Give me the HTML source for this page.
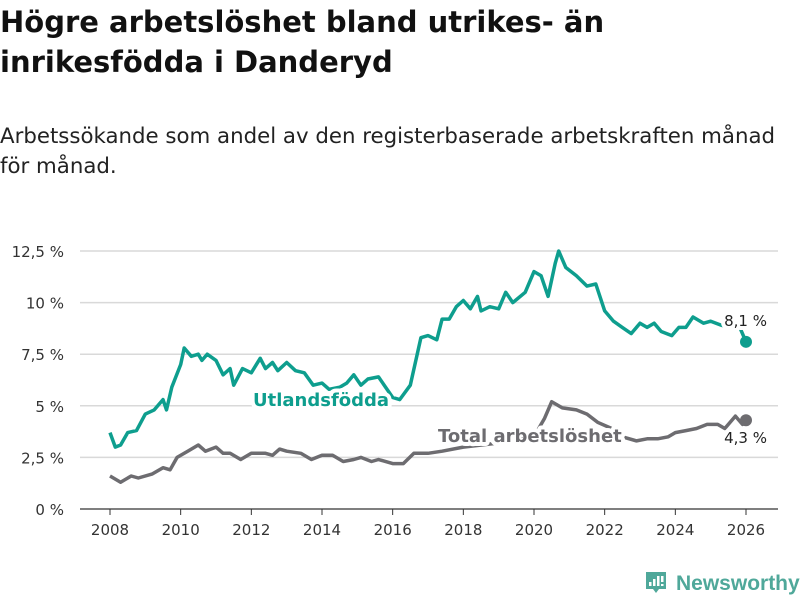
<!DOCTYPE html>
<html><head><meta charset="utf-8">
<style>
body{margin:0;background:#fff;width:800px;height:600px;overflow:hidden;font-family:"DejaVu Sans","Liberation Sans",sans-serif;}
#title{position:absolute;left:0;top:2px;font-size:29px;font-weight:bold;line-height:40px;color:#111;margin:0;white-space:nowrap;}
#sub{position:absolute;left:0;top:122px;font-size:21.3px;line-height:30px;color:#222;margin:0;white-space:nowrap;}
svg{position:absolute;left:0;top:0;}
</style></head><body>
<h1 id="title">Högre arbetslöshet bland utrikes- än<br>inrikesfödda i Danderyd</h1>
<p id="sub">Arbetssökande som andel av den registerbaserade arbetskraften månad<br>för månad.</p>
<svg id="chart" width="800" height="600"></svg>
<script>
const yTicks=[0,2.5,5,7.5,10,12.5];
const yTickLabels=["0 %","2,5 %","5 %","7,5 %","10 %","12,5 %"];
const xTicks=[2008,2010,2012,2014,2016,2018,2020,2022,2024,2026];
const utlT=[2008,2008.15,2008.3,2008.5,2008.75,2009,2009.25,2009.5,2009.6,2009.75,2010,2010.1,2010.3,2010.5,2010.6,2010.75,2011,2011.2,2011.4,2011.5,2011.75,2012,2012.25,2012.4,2012.6,2012.75,2013,2013.25,2013.5,2013.75,2014,2014.2,2014.5,2014.7,2014.9,2015.1,2015.3,2015.6,2015.8,2016,2016.2,2016.5,2016.8,2017,2017.25,2017.4,2017.6,2017.8,2018,2018.2,2018.4,2018.5,2018.75,2019,2019.2,2019.4,2019.75,2020,2020.2,2020.4,2020.6,2020.7,2020.9,2021.2,2021.5,2021.75,2022,2022.25,2022.5,2022.75,2023,2023.2,2023.4,2023.6,2023.9,2024.1,2024.3,2024.5,2024.8,2025,2025.3,2025.6,2025.8,2026];
const utlV=[3.7,3.0,3.1,3.7,3.8,4.6,4.8,5.3,4.8,5.9,7.0,7.8,7.4,7.5,7.2,7.5,7.2,6.5,6.8,6.0,6.8,6.6,7.3,6.8,7.1,6.7,7.1,6.7,6.6,6.0,6.1,5.8,5.9,6.1,6.5,6.0,6.3,6.4,5.9,5.4,5.3,6.0,8.3,8.4,8.2,9.2,9.2,9.8,10.1,9.7,10.3,9.6,9.8,9.7,10.5,10.0,10.5,11.5,11.3,10.3,11.9,12.5,11.7,11.3,10.8,10.9,9.6,9.1,8.8,8.5,9.0,8.8,9.0,8.6,8.4,8.8,8.8,9.3,9.0,9.1,8.9,8.8,8.9,8.1];
const totT=[2008,2008.3,2008.6,2008.8,2009.2,2009.5,2009.7,2009.9,2010.2,2010.5,2010.7,2011,2011.2,2011.4,2011.7,2012,2012.4,2012.6,2012.8,2013,2013.4,2013.7,2014,2014.3,2014.6,2014.9,2015.1,2015.4,2015.6,2016,2016.3,2016.6,2017,2017.4,2018,2019,2020,2020.3,2020.5,2020.8,2021.2,2021.5,2021.8,2022.2,2022.5,2022.9,2023.2,2023.5,2023.8,2024,2024.3,2024.6,2024.9,2025.2,2025.4,2025.7,2025.9,2026];
const totV=[1.6,1.3,1.6,1.5,1.7,2.0,1.9,2.5,2.8,3.1,2.8,3.0,2.7,2.7,2.4,2.7,2.7,2.6,2.9,2.8,2.7,2.4,2.6,2.6,2.3,2.4,2.5,2.3,2.4,2.2,2.2,2.7,2.7,2.8,3.0,3.2,3.5,4.4,5.2,4.9,4.8,4.6,4.2,3.9,3.5,3.3,3.4,3.4,3.5,3.7,3.8,3.9,4.1,4.1,3.9,4.5,4.1,4.3];
const NS="http://www.w3.org/2000/svg";
const svg=document.getElementById('chart');
const X=t=>110+(t-2008)*(746-110)/18;
const Y=v=>509-v*(509-251)/12.5;
function mk(tag,a,txt){const e=document.createElementNS(NS,tag);for(const k in a)e.setAttribute(k,a[k]);if(txt!==undefined)e.textContent=txt;svg.appendChild(e);return e;}
yTicks.forEach((v,i)=>{
 const l=mk('line',{x1:80,x2:778,y1:Y(v),y2:Y(v),stroke:v===0?'#333':'#d9d9d9','stroke-width':v===0?1.2:1.5});
 
 
 const t=mk('text',{x:64,y:Y(v)+6,'text-anchor':'end','font-size':15,fill:'#333'},yTickLabels[i]);
 
 
});
xTicks.forEach(yr=>{
 const l=mk('line',{x1:X(yr),x2:X(yr),y1:509,y2:515,stroke:'#333'});
 
 
 const t=mk('text',{x:X(yr),y:535,'text-anchor':'middle','font-size':15,fill:'#333'},String(yr));
 
 
});
function path(ts,vs){return ts.map((t,i)=>(i?'L':'M')+X(t).toFixed(1)+' '+Y(vs[i]).toFixed(1)).join(' ');}
const pu=mk('path',{d:path(utlT,utlV),fill:'none',stroke:'#0e9e8e','stroke-width':3.5,'stroke-linejoin':'round'});


const pt=mk('path',{d:path(totT,totV),fill:'none',stroke:'#6d6c70','stroke-width':3.5,'stroke-linejoin':'round'});


const du=mk('circle',{cx:X(utlT[utlT.length-1]),cy:Y(utlV[utlV.length-1]),r:6,fill:'#0e9e8e'});


const dt=mk('circle',{cx:X(totT[totT.length-1]),cy:Y(totV[totV.length-1]),r:6,fill:'#6d6c70'});


const halo={stroke:'#fff','stroke-width':8,'paint-order':'stroke','stroke-linejoin':'round'};
const lu=mk('text',Object.assign({x:253,y:406,'font-size':18,'font-weight':'bold',fill:'#0e9e8e'},halo),'Utlandsfödda');


const lt=mk('text',Object.assign({x:438,y:442,'font-size':18,'font-weight':'bold',fill:'#6d6c70'},halo),'Total arbetslöshet');


const vu=mk('text',Object.assign({x:767,y:326,'text-anchor':'end','font-size':15,fill:'#222'},halo),'8,1 %');


const vt=mk('text',Object.assign({x:767,y:443,'text-anchor':'end','font-size':15,fill:'#222'},halo),'4,3 %');


const g=document.createElementNS(NS,'g');


g.innerHTML='<path d="M646 572 h20 v17 h-7 l-3 4 l-3 -4 h-7 z" fill="#4fa89a"/><rect x="649" y="582" width="2.5" height="4" fill="#fff"/><rect x="653" y="579" width="2.5" height="7" fill="#fff"/><rect x="657" y="576" width="2.5" height="10" fill="#fff"/><rect x="661" y="576" width="2.5" height="6" fill="#fff"/><rect x="661" y="584" width="2.5" height="2" fill="#fff"/><text x="676" y="590" font-size="21" font-weight="bold" fill="#4fa89a" font-family="Liberation Sans, sans-serif">Newsworthy</text>';
svg.appendChild(g);
</script>
</body></html>
